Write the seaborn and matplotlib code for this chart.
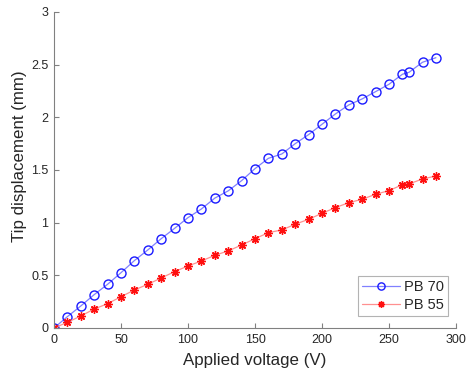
import matplotlib
matplotlib.use("Agg")
import matplotlib.pyplot as plt
import seaborn as sns
import pandas as pd

voltage = [0, 10, 20, 30, 40, 50, 60, 70, 80, 90, 100, 110, 120, 130, 140, 150,
           160, 170, 180, 190, 200, 210, 220, 230, 240, 250, 260, 265, 275, 285]
pb70 = [0.0, 0.108, 0.209, 0.317, 0.415, 0.525, 0.640, 0.741, 0.848, 0.946,
        1.048, 1.130, 1.233, 1.302, 1.399, 1.513, 1.611, 1.652, 1.750, 1.836,
        1.934, 2.032, 2.118, 2.175, 2.244, 2.314, 2.409, 2.428, 2.523, 2.566]
pb55 = [0.0, 0.054, 0.114, 0.180, 0.231, 0.297, 0.361, 0.415, 0.475, 0.535,
        0.589, 0.636, 0.690, 0.732, 0.788, 0.848, 0.905, 0.931, 0.985, 1.032,
        1.089, 1.143, 1.190, 1.222, 1.270, 1.304, 1.361, 1.368, 1.415, 1.443]
labels = ["PB 70", "PB 55"]

sns.set_theme(style="white")
plt.rcParams['font.family'] = ['Liberation Sans', 'DejaVu Sans']

fig = plt.figure(figsize=(4.66, 3.76), dpi=100)
ax = fig.add_axes([54/466, 48/376, 402/466, 316/376])

df70 = pd.DataFrame({"v": voltage, "d": pb70})
df55 = pd.DataFrame({"v": voltage, "d": pb55})

sns.lineplot(data=df70, x="v", y="d", ax=ax, color="#8080ff", linewidth=0.9,
             marker="o", markersize=6.5, markerfacecolor="none",
             markeredgecolor="#1a1aff", markeredgewidth=1.0, label=labels[0])
sns.lineplot(data=df55, x="v", y="d", ax=ax, color="#ff9090", linewidth=0.9,
             marker=(8, 2, 0), markersize=6, markeredgecolor="#ff1010",
             markerfacecolor="#ff1010", markeredgewidth=1.0, label=labels[1])

ax.set_xlim(0, 300)
ax.set_ylim(0, 3)
ax.set_xticks([0, 50, 100, 150, 200, 250, 300])
ax.set_yticks([0, 0.5, 1, 1.5, 2, 2.5, 3])
ax.set_yticklabels(["0", "0.5", "1", "1.5", "2", "2.5", "3"])
ax.set_xlabel("Applied voltage (V)", fontsize=12.2, color="#262626", labelpad=5)
ax.set_ylabel("Tip displacement (mm)", fontsize=12.2, color="#262626")
ax.yaxis.set_label_coords(-0.068, 0.545)

for s in ["top", "right"]:
    ax.spines[s].set_visible(False)
for s in ["left", "bottom"]:
    ax.spines[s].set_color("#808080")
    ax.spines[s].set_linewidth(0.8)
ax.tick_params(axis="both", direction="in", length=3.5, width=0.8,
               color="#808080", labelsize=9, labelcolor="#262626",
               left=True, bottom=True, pad=4)

leg = ax.legend(loc="lower right", bbox_to_anchor=(0.98, 0.038), fontsize=10.5,
                frameon=True, fancybox=False, edgecolor="#a0a0a0",
                handlelength=2.6, handletextpad=0.25, borderpad=0.3,
                labelspacing=0.25, markerscale=0.8, borderaxespad=0)
leg.get_frame().set_linewidth(0.8)

fig.savefig("out.png", dpi=100)
